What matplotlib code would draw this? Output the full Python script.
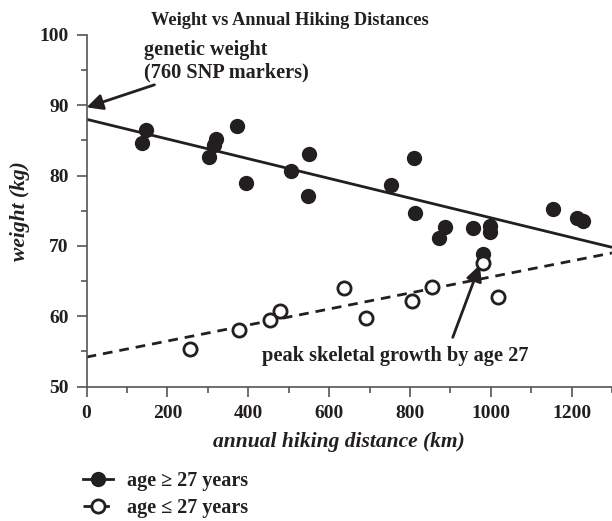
import matplotlib
matplotlib.use("Agg")
import matplotlib.pyplot as plt
from matplotlib.lines import Line2D

INK = "#231f20"
plt.rcParams["font.family"] = ["Liberation Serif", "DejaVu Serif"]
plt.rcParams["font.weight"] = "bold"
plt.rcParams["axes.labelweight"] = "bold"

# age >= 27 (filled)
older_km = [137, 148, 302, 314, 320, 372, 395, 506, 548, 551, 753, 810, 813,
            873, 887, 956, 981, 997, 997, 1154, 1214, 1228]
older_kg = [84.6, 86.5, 82.6, 84.3, 85.2, 87.1, 78.9, 80.7, 77.1, 83.0, 78.7,
            82.5, 74.7, 71.1, 72.7, 72.5, 68.8, 72.9, 72.0, 75.3, 73.9, 73.5]

# age <= 27 (open)
younger_km = [256, 377, 454, 479, 638, 691, 805, 854, 981, 1018]
younger_kg = [55.4, 58.0, 59.5, 60.7, 64.0, 59.7, 62.2, 64.1, 67.5, 62.8]

# trend lines (end points)
trend_km = [0, 1300]
trend_older = [88.0, 69.8]
trend_younger = [54.2, 69.0]

fig = plt.figure(figsize=(6.12, 5.21), dpi=100)
ax = fig.add_axes([0.1415, 0.258, 0.8585, 0.675])

ax.plot(trend_km, trend_older, color=INK, lw=2.0, solid_capstyle="butt")
ax.plot(trend_km, trend_younger, color=INK, lw=2.0, dashes=(3.5, 2.5))
ax.plot(older_km, older_kg, "o", ms=10, color=INK, mec=INK, zorder=3)
ax.plot(younger_km, younger_kg, "o", ms=9.5, mfc="white", mec=INK, mew=2, zorder=4)

ax.set_xlim(0, 1300)
ax.set_ylim(50, 100)
ax.set_xticks(range(0, 1201, 200))
ax.set_xticks(range(0, 1301, 100), minor=True)
ax.set_yticks(range(50, 101, 10))
ax.set_yticks(range(50, 101, 5), minor=True)
for s in ("top", "right"):
    ax.spines[s].set_visible(False)
for s in ("left", "bottom"):
    ax.spines[s].set_color("#555555")
    ax.spines[s].set_linewidth(1.2)
ax.tick_params(which="major", length=7, width=1.2, color="#555555",
               labelsize=14, labelcolor=INK, pad=6)
ax.tick_params(which="minor", length=4, width=1.2, color="#555555")

ax.set_xlabel("annual hiking distance (km)", fontsize=15.5, style="italic",
              fontweight="bold", color=INK)
ax.xaxis.set_label_coords(0.48, -0.128)
ax.set_ylabel("weight (kg)", fontsize=15.5, style="italic", fontweight="bold",
              color=INK)
ax.yaxis.set_label_coords(-0.108, 0.5)
fig.text(0.474, 0.977, "Weight vs Annual Hiking Distances", ha="center",
         va="top", fontsize=13.2, color=INK)

arrow = dict(arrowstyle="-|>", color=INK, lw=2, mutation_scale=24,
             shrinkA=0, shrinkB=0)
ax.annotate("genetic weight\n(760 SNP markers)", xy=(0, 89.7), xytext=(142, 93.3),
            fontsize=14.6, color=INK, ha="left", va="bottom", linespacing=1.15,
            arrowprops=arrow)
ax.annotate("", xy=(973, 67.3), xytext=(906, 57.0), arrowprops=arrow)
ax.text(433, 54.3, "peak skeletal growth by age 27", fontsize=14.7, color=INK,
        ha="left", va="center")

handles = [
    Line2D([], [], color=INK, lw=2, marker="o", ms=10),
    Line2D([], [], color=INK, lw=2, dashes=(3.5, 2.5), marker="o", ms=9.5,
           mfc="white", mew=2),
]
fig.legend(handles, ["age \u2265 27 years", "age \u2264 27 years"],
           loc="upper left", bbox_to_anchor=(0.122, 0.112), frameon=False,
           fontsize=14.5, handlelength=1.5, handletextpad=0.7, labelspacing=0.38,
           borderaxespad=0, labelcolor=INK)

fig.savefig("out.png", dpi=100)
plt.close(fig)
